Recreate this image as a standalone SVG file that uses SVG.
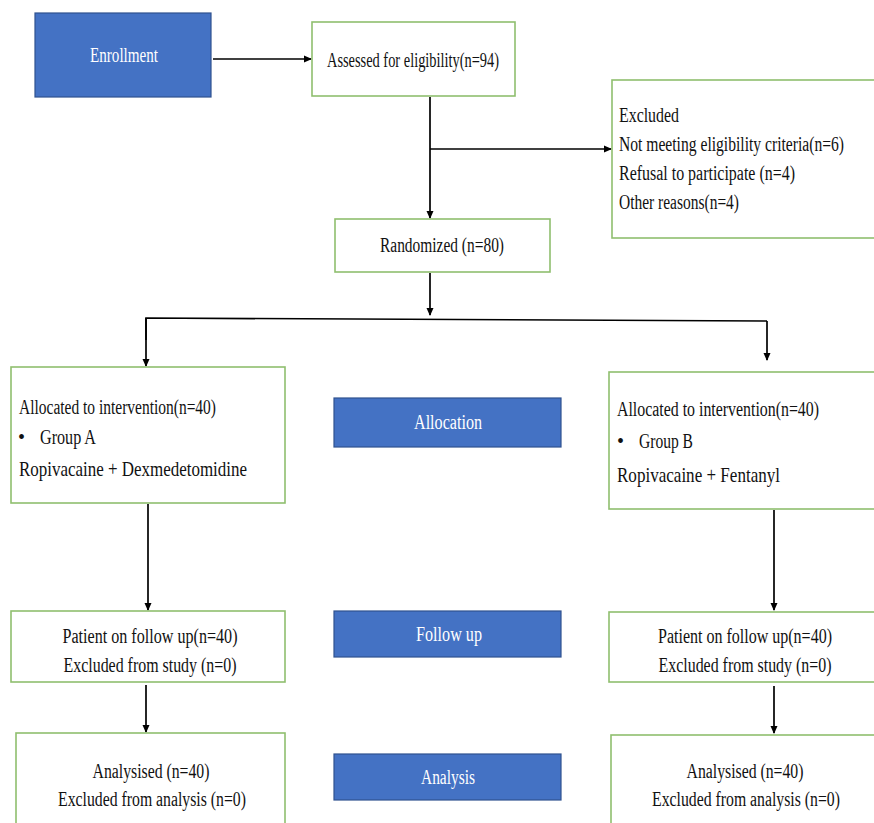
<svg xmlns="http://www.w3.org/2000/svg" width="874" height="823" viewBox="0 0 874 823">
<style>
.box{fill:#ffffff;stroke:#8fbf6e;stroke-width:1.6}
.blue{fill:#4472c4;stroke:#2f528f;stroke-width:1.2}
.t{font-family:"Liberation Serif","Times New Roman",serif;font-size:20px;fill:#111}
.w{font-family:"Liberation Serif","Times New Roman",serif;font-size:20px;fill:#ffffff}
.c{text-anchor:middle}
.ln{fill:none;stroke:#000;stroke-width:1.7}
</style>
<defs>
<marker id="ah" markerWidth="8" markerHeight="8" refX="7" refY="4" orient="auto" markerUnits="userSpaceOnUse">
<path d="M0,0.5 L8,4 L0,7.5 Z" fill="#000"/>
</marker>
</defs>
<rect width="874" height="823" fill="#ffffff"/>

<g id="connectors">
<line class="ln" x1="213" y1="59" x2="311" y2="59" marker-end="url(#ah)"/>
<line class="ln" x1="430" y1="97" x2="430" y2="218" marker-end="url(#ah)"/>
<line class="ln" x1="430" y1="149" x2="611" y2="149" marker-end="url(#ah)"/>
<line class="ln" x1="430" y1="273" x2="430" y2="315" marker-end="url(#ah)"/>
<polyline class="ln" points="146,340 146,318 767,321"/>
<line class="ln" x1="146" y1="318" x2="146" y2="366" marker-end="url(#ah)"/>
<line class="ln" x1="767" y1="321" x2="767" y2="360" marker-end="url(#ah)"/>
<line class="ln" x1="148" y1="504" x2="148" y2="610" marker-end="url(#ah)"/>
<line class="ln" x1="774" y1="510" x2="774" y2="610" marker-end="url(#ah)"/>
<line class="ln" x1="146" y1="685" x2="146" y2="732" marker-end="url(#ah)"/>
<line class="ln" x1="774" y1="686" x2="774" y2="733" marker-end="url(#ah)"/>
</g>

<g id="enrollment">
<rect class="blue" x="35" y="13" width="176" height="84"/>
<text class="w c" x="124" y="62" textLength="68" lengthAdjust="spacingAndGlyphs">Enrollment</text>
</g>

<g id="assessed">
<rect class="box" x="312" y="22" width="203" height="74"/>
<text class="t" x="327" y="67" textLength="172" lengthAdjust="spacingAndGlyphs">Assessed for eligibility(n=94)</text>
</g>

<g id="excluded">
<rect class="box" x="612" y="80" width="270" height="158"/>
<text class="t" x="619" y="122" textLength="60" lengthAdjust="spacingAndGlyphs">Excluded</text>
<text class="t" x="619" y="151" textLength="225" lengthAdjust="spacingAndGlyphs">Not meeting eligibility criteria(n=6)</text>
<text class="t" x="619" y="180" textLength="176" lengthAdjust="spacingAndGlyphs">Refusal to participate (n=4)</text>
<text class="t" x="619" y="209" textLength="120" lengthAdjust="spacingAndGlyphs">Other reasons(n=4)</text>
</g>

<g id="randomized">
<rect class="box" x="335" y="219" width="215" height="53"/>
<text class="t" x="380" y="252" textLength="124" lengthAdjust="spacingAndGlyphs">Randomized (n=80)</text>
</g>

<g id="alloc-a">
<rect class="box" x="11" y="367" width="274" height="136"/>
<text class="t" x="19" y="414" textLength="197" lengthAdjust="spacingAndGlyphs">Allocated to intervention(n=40)</text>
<text class="t" x="18" y="444">•</text>
<text class="t" x="40" y="444" textLength="56" lengthAdjust="spacingAndGlyphs">Group A</text>
<text class="t" x="19" y="476" style="font-size:21px" textLength="228" lengthAdjust="spacingAndGlyphs">Ropivacaine + Dexmedetomidine</text>
</g>

<g id="allocation">
<rect class="blue" x="334" y="398" width="227" height="49"/>
<text class="w c" x="448" y="429" textLength="68" lengthAdjust="spacingAndGlyphs">Allocation</text>
</g>

<g id="alloc-b">
<rect class="box" x="609" y="372" width="273" height="137"/>
<text class="t" x="617" y="416" textLength="202" lengthAdjust="spacingAndGlyphs">Allocated to intervention(n=40)</text>
<text class="t" x="617" y="448">•</text>
<text class="t" x="639" y="448" textLength="54" lengthAdjust="spacingAndGlyphs">Group B</text>
<text class="t" x="617" y="482" style="font-size:21px" textLength="163" lengthAdjust="spacingAndGlyphs">Ropivacaine + Fentanyl</text>
</g>

<g id="followup-a">
<rect class="box" x="11" y="611" width="274" height="71"/>
<text class="t c" x="150" y="643" textLength="175" lengthAdjust="spacingAndGlyphs">Patient on follow up(n=40)</text>
<text class="t c" x="150" y="672" textLength="173" lengthAdjust="spacingAndGlyphs">Excluded from study (n=0)</text>
</g>

<g id="followup">
<rect class="blue" x="334" y="611" width="227" height="46"/>
<text class="w c" x="449" y="641" textLength="66" lengthAdjust="spacingAndGlyphs">Follow up</text>
</g>

<g id="followup-b">
<rect class="box" x="609" y="612" width="273" height="70"/>
<text class="t c" x="745" y="643" textLength="174" lengthAdjust="spacingAndGlyphs">Patient on follow up(n=40)</text>
<text class="t c" x="745" y="672" textLength="173" lengthAdjust="spacingAndGlyphs">Excluded from study (n=0)</text>
</g>

<g id="analysed-a">
<rect class="box" x="16" y="733" width="269" height="100"/>
<text class="t c" x="151" y="778" textLength="117" lengthAdjust="spacingAndGlyphs">Analysised (n=40)</text>
<text class="t c" x="152" y="806" textLength="188" lengthAdjust="spacingAndGlyphs">Excluded from analysis (n=0)</text>
</g>

<g id="analysis">
<rect class="blue" x="334" y="754" width="227" height="46"/>
<text class="w c" x="448" y="784" textLength="54" lengthAdjust="spacingAndGlyphs">Analysis</text>
</g>

<g id="analysed-b">
<rect class="box" x="611" y="735" width="271" height="100"/>
<text class="t c" x="745" y="778" textLength="117" lengthAdjust="spacingAndGlyphs">Analysised (n=40)</text>
<text class="t c" x="746" y="806" textLength="188" lengthAdjust="spacingAndGlyphs">Excluded from analysis (n=0)</text>
</g>
</svg>
